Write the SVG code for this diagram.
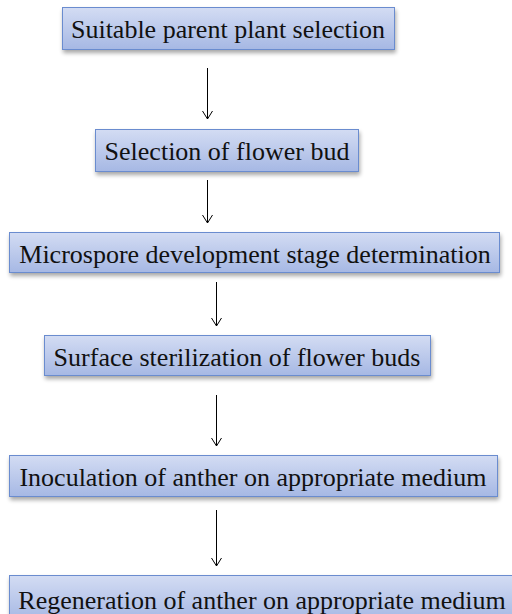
<svg xmlns="http://www.w3.org/2000/svg" width="512" height="614" viewBox="0 0 512 614">
<defs>
<linearGradient id="g" x1="0" y1="0" x2="0" y2="1">
<stop offset="0" stop-color="#d3dcf3"/>
<stop offset="1" stop-color="#a6b8e4"/>
</linearGradient>
<filter id="sh" x="-10%" y="-30%" width="120%" height="170%">
<feGaussianBlur in="SourceAlpha" stdDeviation="2"/>
<feOffset dx="1" dy="3" result="b"/>
<feComponentTransfer><feFuncA type="linear" slope="0.35"/></feComponentTransfer>
<feMerge><feMergeNode/><feMergeNode in="SourceGraphic"/></feMerge>
</filter>
<marker id="ah" markerWidth="12" markerHeight="12" refX="10" refY="6" orient="auto" markerUnits="userSpaceOnUse" viewBox="0 0 12 12">
<path d="M2,1 L10,6 L2,11" fill="none" stroke="#000" stroke-width="1"/>
</marker>
</defs>
<style>
.box{fill:url(#g);stroke:#6a8ccf;stroke-width:1;filter:url(#sh)}
.t{font-family:"Liberation Serif","Times New Roman",serif;font-size:26px;fill:#111;text-anchor:middle}
.c{stroke:#000;stroke-width:1;fill:none;marker-end:url(#ah)}
</style>
<rect width="512" height="614" fill="#fff"/>
<g id="n1"><rect class="box" x="62.5" y="7.5" width="332" height="42"/><text class="t" x="228" y="38">Suitable parent plant selection</text></g>
<g id="n2"><rect class="box" x="95.5" y="129.5" width="263" height="42"/><text class="t" x="227" y="160">Selection of flower bud</text></g>
<g id="n3"><rect class="box" x="9.5" y="232.5" width="490" height="40"/><text class="t" x="255" y="263">Microspore development stage determination</text></g>
<g id="n4"><rect class="box" x="44.5" y="335.5" width="386" height="40"/><text class="t" x="237" y="366">Surface sterilization of flower buds</text></g>
<g id="n5"><rect class="box" x="9.5" y="455.5" width="488" height="41"/><text class="t" x="253" y="486">Inoculation of anther on appropriate medium</text></g>
<g id="n6"><rect class="box" x="9.5" y="575.5" width="510" height="45"/><text class="t" x="262" y="609">Regeneration of anther on appropriate medium</text></g>
<g id="connectors">
<line class="c" x1="207.5" y1="68" x2="207.5" y2="119"/>
<line class="c" x1="207.5" y1="180" x2="207.5" y2="223"/>
<line class="c" x1="216.5" y1="282" x2="216.5" y2="326"/>
<line class="c" x1="216.5" y1="395" x2="216.5" y2="446"/>
<line class="c" x1="216.5" y1="510" x2="216.5" y2="566"/>
</g>
</svg>
